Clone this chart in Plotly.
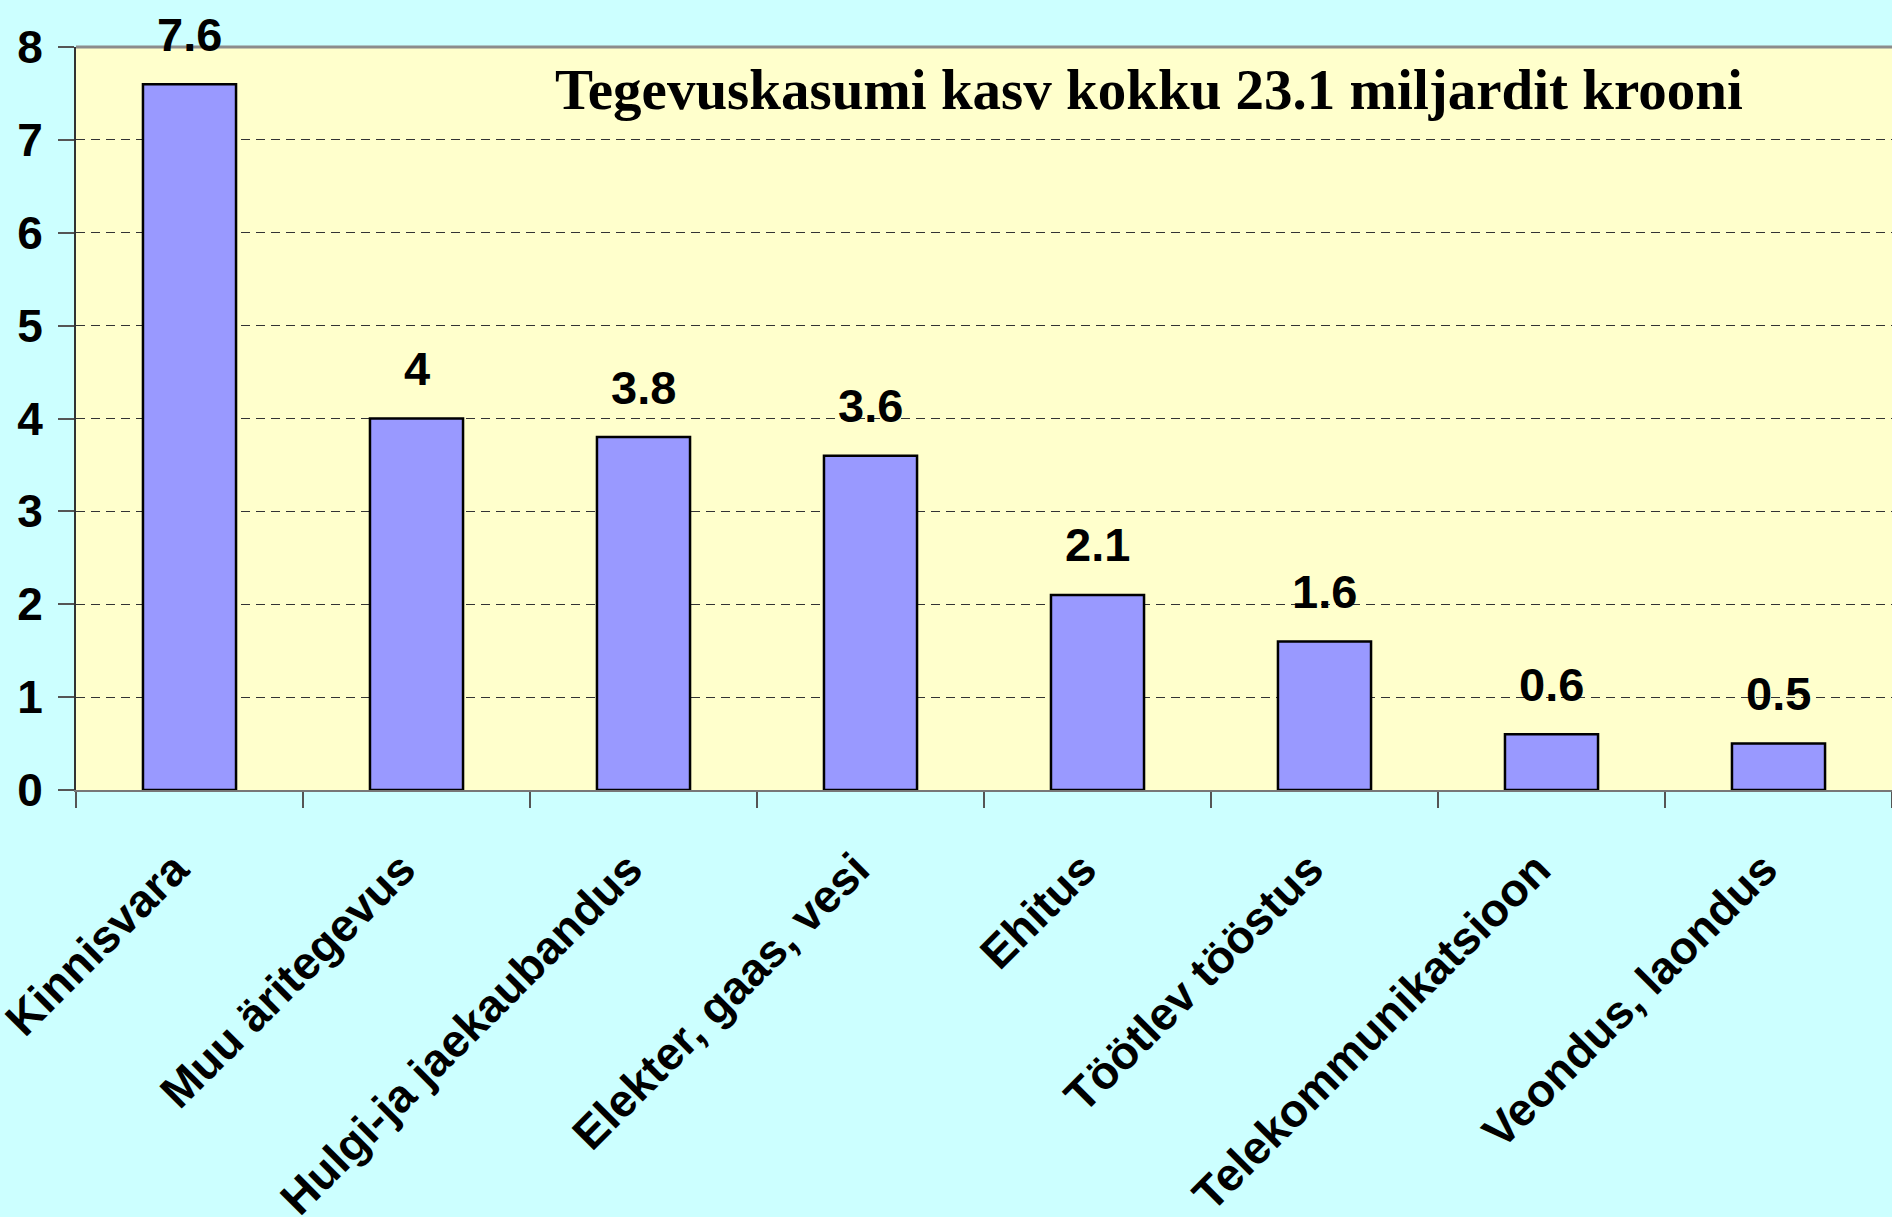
import plotly.graph_objects as go

categories = ["Kinnisvara", "Muu äritegevus", "Hulgi-ja jaekaubandus", "Elekter, gaas, vesi",
              "Ehitus", "Töötlev tööstus", "Telekommunikatsioon", "Veondus, laondus"]
values = [7.6, 4, 3.8, 3.6, 2.1, 1.6, 0.6, 0.5]
value_labels = ["7.6", "4", "3.8", "3.6", "2.1", "1.6", "0.6", "0.5"]
y_ticks = [0, 1, 2, 3, 4, 5, 6, 7, 8]
title_text = "Tegevuskasumi kasv kokku 23.1 miljardit krooni"

SANS = "Arial, Liberation Sans, sans-serif"
SERIF = "Times New Roman, Liberation Serif, serif"

positions = list(range(len(categories)))

fig = go.Figure(go.Bar(
    x=positions, y=values,
    marker=dict(color="#9999FF", line=dict(color="#000000", width=2.5)),
    width=0.41, hoverinfo="skip",
))
# invisible trace to carry the label axis
fig.add_trace(go.Scatter(x=positions, y=values, xaxis="x2", mode="markers",
                         marker=dict(opacity=0), hoverinfo="skip"))

for p, v, t in zip(positions, values, value_labels):
    fig.add_annotation(x=p, y=v, text=t, showarrow=False, yanchor="middle", yshift=50,
                       font=dict(family=SANS, size=47, color="#000", weight="bold"))

fig.add_annotation(xref="paper", yref="paper", x=(1149 - 76) / 1816, y=1 - (90 - 47) / 743,
                   text=title_text, showarrow=False, xanchor="center", yanchor="middle",
                   font=dict(family=SERIF, size=57, color="#000", weight="bold"))

# top border of plot area
fig.add_shape(type="line", xref="paper", yref="paper", x0=0, x1=1, y0=1, y1=1,
              line=dict(color="#8c8c8c", width=3))

fig.update_layout(
    width=1892, height=1217,
    paper_bgcolor="#CCFFFF", plot_bgcolor="#FFFFCC",
    margin=dict(l=76, r=0, t=47, b=427),
    showlegend=False,
    bargap=0.59,
    xaxis=dict(
        range=[-0.5, 7.5], tickvals=[i - 0.5 for i in range(len(categories) + 1)],
        ticks="outside", ticklen=16, tickcolor="#555", tickwidth=1.5,
        showticklabels=False, showline=True, linecolor="#777", linewidth=2,
        showgrid=False, zeroline=False, automargin=False,
    ),
    xaxis2=dict(
        overlaying="x", anchor="y", side="bottom",
        range=[-0.5 + 0.065, 7.5 + 0.065], tickvals=positions, ticktext=categories,
        tickangle=-45, ticks="", showline=False, showgrid=False, zeroline=False,
        ticklabelstandoff=42, automargin=False, ticklabeloverflow="allow",
        tickfont=dict(family=SANS, size=46, color="#000", weight="bold"),
    ),
    yaxis=dict(
        range=[0, 8], tickvals=y_ticks, ticks="outside", ticklen=16, tickcolor="#555",
        tickwidth=1.5, showline=True, linecolor="#333", linewidth=2,
        showgrid=True, gridcolor="#333", gridwidth=1, griddash="9px,6px",
        zeroline=False, ticklabelstandoff=6, automargin=False,
        tickfont=dict(family=SANS, size=46, color="#000", weight="bold"),
    ),
)

fig.write_html("out.html", config={"displayModeBar": False},
               post_script="document.body.style.margin='0';document.body.style.background='#CCFFFF';")
